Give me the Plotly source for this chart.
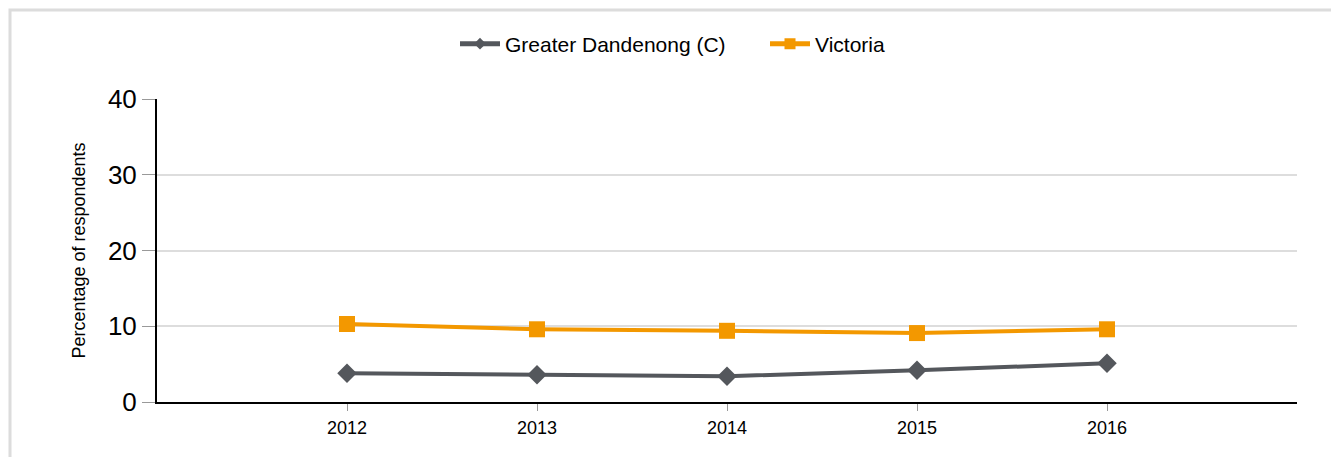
import plotly.graph_objects as go

years = [2012, 2013, 2014, 2015, 2016]
dandenong = [3.8, 3.6, 3.4, 4.2, 5.1]
victoria = [10.3, 9.6, 9.4, 9.1, 9.6]
y_ticks = [0, 10, 20, 30, 40]

GRAY = "#54575c"
ORANGE = "#f39800"
FONT = "Liberation Sans, Arial, sans-serif"

fig = go.Figure()
fig.add_trace(go.Scatter(
    x=years, y=dandenong, name="Greater Dandenong (C)", mode="lines+markers",
    line=dict(color=GRAY, width=4),
    marker=dict(symbol="diamond", size=15, color=GRAY), showlegend=False,
))
fig.add_trace(go.Scatter(
    x=years, y=victoria, name="Victoria", mode="lines+markers",
    line=dict(color=ORANGE, width=4),
    marker=dict(symbol="square", size=16, color=ORANGE), showlegend=False,
))
# legend-only entries with the smaller legend symbols
fig.add_trace(go.Scatter(
    x=[None], y=[None], name="Greater Dandenong (C)", mode="lines+markers",
    line=dict(color=GRAY, width=5), marker=dict(symbol="diamond", size=9, color=GRAY),
))
fig.add_trace(go.Scatter(
    x=[None], y=[None], name="Victoria", mode="lines+markers",
    line=dict(color=ORANGE, width=5), marker=dict(symbol="square", size=11, color=ORANGE),
))

W, H = 1331, 457
L, R, T, B = 157, 34, 99, 55
pw, ph = W - L - R, H - T - B

def px_x(p):
    return (p - L) / pw

def px_y(p):
    return (H - B - p) / ph

fig.add_shape(type="rect", xref="paper", yref="paper",
              x0=px_x(10), x1=px_x(1345), y0=px_y(470), y1=px_y(10),
              line=dict(color="#dcdcdc", width=3), fillcolor="rgba(0,0,0,0)", layer="below")

fig.update_layout(
    width=W, height=H,
    margin=dict(l=L, r=R, t=T, b=B, pad=0),
    paper_bgcolor="white", plot_bgcolor="white",
    font=dict(family=FONT, color="#000"),
    showlegend=True,
    legend=dict(orientation="h", x=px_x(455), xanchor="left", y=px_y(44), yanchor="middle",
                font=dict(size=21, family=FONT), itemwidth=40, entrywidth=255,
                tracegroupgap=0),
    xaxis=dict(
        range=[2011, 2017], tickvals=years, ticktext=[str(y) for y in years],
        showgrid=False, zeroline=False,
        showline=True, linecolor="#000", linewidth=2,
        ticks="outside", ticklen=7, tickcolor="#999", tickwidth=1,
        tickfont=dict(size=18, family=FONT), ticklabelstandoff=1,
    ),
    yaxis=dict(
        range=[0, 40], tickvals=y_ticks,
        showgrid=True, gridcolor="#dddddd", gridwidth=2,
        zeroline=False,
        showline=True, linecolor="#000", linewidth=2,
        ticks="outside", ticklen=13, tickcolor="#999", tickwidth=1,
        tickfont=dict(size=26, family=FONT), ticklabelstandoff=0,
        title=dict(text="Percentage of respondents", font=dict(size=18, family=FONT), standoff=18),
    ),
)

fig.write_html("out.html", config={"displayModeBar": False},
               post_script="document.body.style.margin='0';")
